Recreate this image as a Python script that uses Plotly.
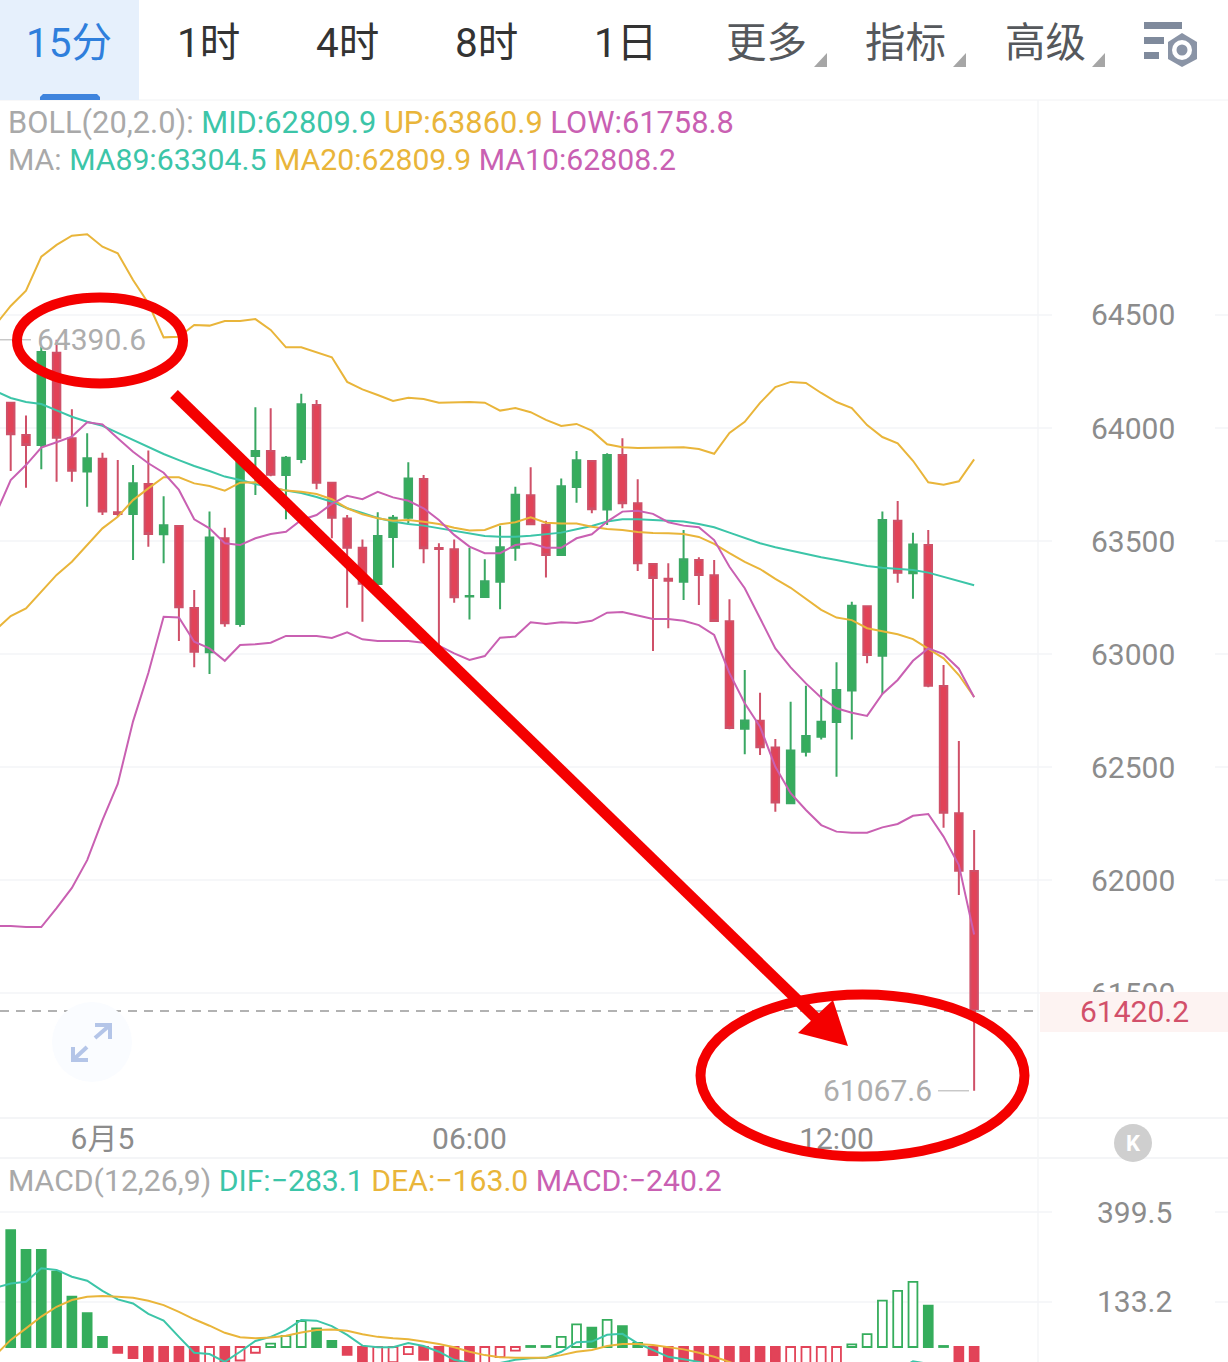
import plotly.graph_objects as go

WIDTH, HEIGHT = 1228, 1362

# 15-minute candles, oldest first
opens = [64112,63969,63925,64333,63955,63807,63864,63627,63620,63752,63530,63566,63204,63008,63512,63133,
         63876,63898,63792,63863,64102,63758,63600,63470,63310,63518,63603,63774,63469,63463,63254,63252,
         63320,63470,63702,63572,63438,63739,63854,63639,63880,63667,63398,63333,63320,63416,63348,63145,
         62669,62705,62586,62340,62568,62634,62699,62838,63211,62992,63590,63357,63482,62858,62295,62040]
highs = [64112,64055,64360,64390.6,64083,63977,63891,63858,63836,63900,63698,63566,63283,63630,63559,63893,
         64092,64087,63876,64151,64124,63762,63615,63507,63627,63615,63848,63792,63490,63507,63470,63419,
         63568,63740,63826,63590,63776,63898,63854,63888,63955,63773,63398,63401,63549,63428,63416,63242,
         62929,62829,62624,62789,62860,62844,62963,63231,63212,63631,63677,63537,63549,62951,62615,62221]
lows = [63810,63736,63817,63762,63762,63652,63615,63608,63416,63475,63401,63057,62941,62912,63121,63121,
        63704,63787,63596,63844,63729,63512,63205,63143,63310,63382,63578,63401,63040,63227,63153,63252,
        63198,63413,63571,63338,63438,63669,63623,63571,63645,63367,63013,63114,63239,63217,63144,62667,
        62556,62553,62302,62340,62546,62622,62457,62622,62959,62823,63315,63245,62853,62231,61934,61067.6]
closes = [63972,63925,64336,63957,63811,63866,63630,63620,63755,63531,63570,63207,63010,63515,63136,63867,
          63898,63793,63868,64105,63758,63603,63470,63311,63522,63603,63776,63468,63465,63251,63257,63322,
          63472,63705,63574,63438,63742,63857,63641,63881,63667,63401,63336,63324,63419,63350,63146,62673,
          62706,62587,62343,62573,62637,62700,62841,63214,62996,63593,63360,63485,62860,62298,62041,61420.2]

# Indicator lines start one period before the first visible candle
boll_up = [64456,64540,64608,64758,64810,64851,64857,64802,64773,64655,64552,64401,64404,64456,64453,64473,
           64473,64482,64434,64357,64357,64335,64313,64204,64171,64146,64120,64134,64128,64112,64114,64115,
           64112,64077,64088,64070,64036,64009,64018,63988,63928,63915,63911,63913,63912,63915,63907,63886,
           63978,64027,64111,64181,64204,64199,64155,64115,64088,64013,63960,63932,63855,63760,63749,63764,63860.9]
ma89 = [64164,64133,64115,64106,64078,64050,64028,64010,63978,63947,63917,63885,63858,63832,63810,63785,
        63770,63752,63739,63723,63712,63695,63674,63645,63624,63602,63586,63575,63568,63556,63544,63534,
        63522,63519,63519,63523,63530,63537,63552,63566,63586,63596,63596,63593,63592,63586,63575,63561,
        63537,63512,63490,63472,63457,63442,63428,63416,63404,63389,63382,63376,63372,63360,63342,63324,63304.5]
boll_mid = [63106,63168,63202,63276,63350,63408,63482,63556,63607,63681,63733,63782,63782,63755,63743,63723,
            63758,63760,63740,63723,63718,63708,63685,63645,63618,63601,63590,63593,63585,63575,63559,63546,
            63549,63574,63583,63605,63581,63577,63577,63563,63553,63549,63540,63535,63534,63531,63518,63487,
            63446,63408,63376,63332,63293,63246,63195,63161,63150,63114,63099,63087,63066,63025,62981,62907,62809.9]
ma10 = [63615,63770,63836,63913,63937,63962,64025,64016,63955,63895,63844,63802,63726,63596,63556,63490,
        63482,63512,63531,63541,63593,63615,63664,63700,63685,63718,63693,63678,63645,63593,63527,63475,
        63446,63446,63482,63490,63470,63470,63512,63530,63586,63630,63634,63620,63583,63568,63561,63504,
        63386,63291,63158,63025,62941,62870,62807,62760,62740,62726,62823,62885,62970,63025,63000,62935,62808.2]
boll_low = [61796,61796,61792,61792,61876,61965,62088,62265,62425,62702,62916,63165,63162,63054,63025,62970,
            63040,63043,63050,63080,63080,63080,63071,63096,63065,63058,63058,63058,63050,63037,63003,62974,
            62991,63072,63077,63140,63133,63140,63137,63147,63183,63186,63170,63155,63155,63147,63128,63084,
            62915,62782,62678,62501,62384,62310,62243,62214,62209,62209,62233,62248,62284,62292,62192,62066,61758.8]

macd_hist = [346,287,287,223,149,100,30,-17,-33,-50,-55,-58,-62,-50,-55,-40,
             -17,10,33,77,55,18,-23,-50,-48,-45,-21,-38,-50,-58,-60,-50,
             -30,-11,3,3,30,67,57,80,62,12,-24,-45,-55,-60,-65,-80,
             -95,-105,-110,-100,-90,-75,-50,8,38,137,166,193,122,3,-120,-240.2]
dif = [175,188,193,233,228,208,196,166,141,129,98,78,30,-17,-21,-44,
       -14,18,30,50,80,78,62,36,4,-1,-1,12,3,-14,-38,-47,
       -53,-47,-38,-33,-32,-14,14,16,36,39,11,-9,-29,-36,-44,-60,
       -90,-120,-150,-180,-190,-195,-190,-180,-150,-130,-100,-70,-42,-50,-90,-180,-283.1]
dea = [-24,21,55,90,119,139,149,151,149,146,137,124,104,82,63,42,
       29,26,28,33,43,50,52,48,38,30,26,23,16,9,-1,-14,
       -24,-30,-32,-33,-32,-24,-14,-9,3,9,9,6,-1,-7,-17,-29,
       -44,-65,-85,-105,-125,-140,-150,-155,-155,-150,-140,-125,-110,-100,-100,-125,-163.0]

price_ticks = [64500, 64000, 63500, 63000, 62500, 62000, 61500]
macd_ticks = [399.5, 133.2]
time_tick_index = [6, 30, 54]
time_tick_labels = ["6月5", "06:00", "12:00"]
tab_labels = ["15分", "1时", "4时", "8时", "1日", "更多", "指标", "高级"]
tab_centres = [69, 208, 347, 486, 625, 766, 905, 1045]

last_price = 61420.2
peak_price = 64390.6
trough_price = 61067.6

candle_index = list(range(len(opens)))
line_index = list(range(-1, len(opens)))

RED, GREEN = "#e24358", "#35ad5c"
WICK_RED, WICK_GREEN = "#cf5068", "#3aa863"
TEAL, YELLOW, MAGENTA = "#3cc5a8", "#e9b53a", "#c960b2"
GRID = "#f3f5f7"
FONT = "Roboto, 'Noto Sans CJK SC', sans-serif"
MARKUP = "#f40000"


def fx(px):
    return px / WIDTH


def fy(py):
    return 1 - py / HEIGHT


def chrome_rect(x0, y0, x1, y1, color):
    return dict(type="rect", xref="paper", yref="paper", x0=fx(x0), x1=fx(x1), y0=fy(y0), y1=fy(y1),
                fillcolor=color, line_width=0, layer="above")


def chrome_path(points, fill=None, line=None, width=0, close=True, layer="above"):
    d = "M " + " L ".join(f"{fx(x):.5f},{fy(y):.5f}" for x, y in points) + (" Z" if close else "")
    return dict(type="path", xref="paper", yref="paper", path=d, fillcolor=fill,
                line=dict(color=line or "rgba(0,0,0,0)", width=width), layer=layer)


def chrome_circle(cx, cy, rx, ry, fill=None, line=None, width=0, layer="above"):
    return dict(type="circle", xref="paper", yref="paper", x0=fx(cx - rx), x1=fx(cx + rx),
                y0=fy(cy + ry), y1=fy(cy - ry), fillcolor=fill,
                line=dict(color=line or "rgba(0,0,0,0)", width=width), layer=layer)


def chrome_text(x, y, text, size=30, color="#888", anchor="left", weight=400):
    return dict(xref="paper", yref="paper", x=fx(x), y=fy(y), text=text, showarrow=False,
                xanchor=anchor, yanchor="middle", align=anchor,
                font=dict(family=FONT, size=size, color=color, weight=weight))


fig = go.Figure()

fig.add_trace(go.Candlestick(
    x=candle_index, open=opens, high=highs, low=lows, close=closes, xaxis="x", yaxis="y",
    increasing=dict(line=dict(color=WICK_GREEN, width=2), fillcolor=GREEN),
    decreasing=dict(line=dict(color=WICK_RED, width=2), fillcolor=RED),
    whiskerwidth=0, hoverinfo="skip", showlegend=False))

for values, color in [(ma89, TEAL), (boll_mid, YELLOW), (boll_up, YELLOW), (ma10, MAGENTA), (boll_low, MAGENTA)]:
    fig.add_trace(go.Scatter(x=line_index, y=values, mode="lines", xaxis="x", yaxis="y",
                             line=dict(color=color, width=2), hoverinfo="skip", showlegend=False))

# Histogram bars are hollow while the value is rising, solid while it is falling
hist_edge = [GREEN if v >= 0 else RED for v in macd_hist]
hist_fill = [
    "#ffffff" if i > 0 and v > macd_hist[i - 1] else hist_edge[i]
    for i, v in enumerate(macd_hist)
]
fig.add_trace(go.Bar(x=candle_index, y=macd_hist, xaxis="x2", yaxis="y2", width=0.58,
                     marker=dict(color=hist_fill, line=dict(color=hist_edge, width=1.8)),
                     hoverinfo="skip", showlegend=False))
for values, color in [(dif, TEAL), (dea, YELLOW)]:
    fig.add_trace(go.Scatter(x=line_index, y=values, mode="lines", xaxis="x2", yaxis="y2",
                             line=dict(color=color, width=2), hoverinfo="skip", showlegend=False))

shapes = []

# Panel frame and tick grid
shapes.append(dict(type="line", xref="paper", yref="paper", x0=0, x1=1, y0=fy(100), y1=fy(100),
                   line=dict(color="#f1f2f4", width=1), layer="below"))
shapes.append(dict(type="line", xref="paper", yref="paper", x0=0, x1=1, y0=fy(1118), y1=fy(1118),
                   line=dict(color="#f1f2f4", width=1.5), layer="below"))
shapes.append(dict(type="line", xref="paper", yref="paper", x0=0, x1=1, y0=fy(1158), y1=fy(1158),
                   line=dict(color="#f1f2f4", width=1.5), layer="below"))
shapes.append(dict(type="line", xref="paper", yref="paper", x0=fx(1038), x1=fx(1038), y0=0, y1=fy(100),
                   line=dict(color="#f5f6f7", width=1.5), layer="below"))
for axis, ticks in (("y", price_ticks), ("y2", macd_ticks)):
    for tick in ticks:
        for x0, x1 in ((0, 1052), (1215, 1228)):
            shapes.append(dict(type="line", xref="paper", yref=axis, x0=fx(x0), x1=fx(x1), y0=tick, y1=tick,
                               line=dict(color=GRID, width=1.5), layer="below"))

# Last-price marker
shapes.append(dict(type="line", xref="paper", yref="y", x0=0, x1=fx(1036), y0=last_price, y1=last_price,
                   line=dict(color="#b2b2b2", width=2, dash="9px,7px"), layer="above"))
shapes.append(chrome_rect(1040, 992, 1228, 1032, "#fdf3f2"))

# Leader lines of the extreme-price labels
shapes.append(dict(type="line", xref="paper", yref="y", x0=0, x1=fx(31), y0=peak_price, y1=peak_price,
                   line=dict(color="#c8c8c8", width=1.5), layer="above"))
shapes.append(dict(type="line", xref="paper", yref="y", x0=fx(938), x1=fx(969), y0=trough_price, y1=trough_price,
                   line=dict(color="#c8c8c8", width=1.5), layer="above"))

# Interval tabs
shapes.append(chrome_rect(0, 0, 139, 100, "#e6f0fc"))
shapes.append(chrome_path([(40, 100), (40, 97), (43, 94), (97, 94), (100, 97), (100, 100)], fill="#3f84dd"))
for tx in (814, 953, 1092):
    shapes.append(chrome_path([(tx + 13, 53), (tx + 13, 67), (tx, 67)], fill="#a6a6a6"))

# Settings icon
shapes.append(chrome_rect(1144, 22, 1182, 29, "#7f8a9c"))
shapes.append(chrome_rect(1144, 37, 1164, 44, "#7f8a9c"))
shapes.append(chrome_rect(1144, 52, 1159, 59, "#7f8a9c"))
shapes.append(chrome_path([(1182, 33), (1197, 42), (1197, 59), (1182, 67), (1168, 59), (1168, 42)], fill="#8a94a6"))
shapes.append(chrome_circle(1182, 50, 10, 10, fill="#ffffff"))
shapes.append(chrome_circle(1182, 50, 5.5, 5.5, fill="#8a94a6"))

# Expand button
shapes.append(chrome_circle(92, 1042, 40, 40, fill="#fafcff"))
for pts in ([(95, 1038), (110, 1025)], [(95, 1025), (110, 1025), (110, 1039)],
            [(87, 1047), (73, 1060)], [(73, 1047), (73, 1060), (88, 1060)]):
    shapes.append(chrome_path(pts, line="#b4c5e8", width=4, close=False))

# Collapse button
shapes.append(chrome_circle(1133, 1143, 19, 19, fill="#cfcfcf"))

# Hand-drawn markup over the chart
shapes.append(chrome_circle(100, 340.5, 83, 43, line=MARKUP, width=10))
shapes.append(chrome_circle(862.5, 1075.5, 162, 81, line=MARKUP, width=10))
shapes.append(chrome_path([(174, 394), (818, 1020)], line=MARKUP, width=11, close=False))
shapes.append(chrome_path([(848, 1046), (798, 1033), (833, 1000)], fill=MARKUP))

annotations = []
for label, cx in zip(tab_labels, tab_centres):
    color = "#2f7fdc" if label == "15分" else ("#333333" if cx < 700 else "#55585c")
    annotations.append(chrome_text(cx, 43, label, size=40.5, color=color, anchor="center"))


def seg(text, color):
    return f'<span style="color:{color}">{text}</span>'


GREY_TXT = "#a9a9a9"
annotations.append(chrome_text(6, 122, seg("BOLL(20,2.0): ", GREY_TXT) + seg("MID:62809.9 ", TEAL)
                               + seg("UP:63860.9 ", YELLOW) + seg("LOW:61758.8", MAGENTA), size=30.8))
annotations.append(chrome_text(6, 159, seg("MA: ", GREY_TXT) + seg("MA89:63304.5 ", TEAL)
                               + seg("MA20:62809.9 ", YELLOW) + seg("MA10:62808.2", MAGENTA), size=30.2))
annotations.append(chrome_text(6, 1180, seg("MACD(12,26,9) ", GREY_TXT) + seg("DIF:−283.1 ", TEAL)
                               + seg("DEA:−163.0 ", YELLOW) + seg("MACD:−240.2", MAGENTA), size=30.2))

annotations.append(dict(xref="paper", yref="y", x=fx(35), y=peak_price, text=f"{peak_price}", showarrow=False,
                        xanchor="left", yanchor="middle",
                        font=dict(family=FONT, size=30, color="#adadad")))
annotations.append(dict(xref="paper", yref="y", x=fx(934), y=trough_price, text=f"{trough_price}", showarrow=False,
                        xanchor="right", yanchor="middle",
                        font=dict(family=FONT, size=30, color="#adadad")))
annotations.append(dict(xref="paper", yref="y", x=fx(1134), y=last_price, text=f"{last_price}", showarrow=False,
                        xanchor="center", yanchor="middle",
                        font=dict(family=FONT, size=30, color="#d2506a")))
annotations.append(chrome_text(1133, 1143, "K", size=22, color="#ffffff", anchor="center", weight=700))

axis_font = dict(family=FONT, size=30, color="#8c8c8c")

# Pixel placement of the panels: price scale 0.226 px per unit, MACD scale 0.338 px per unit
fig.update_layout(
    width=WIDTH, height=HEIGHT, autosize=False,
    margin=dict(l=0, r=0, t=0, b=0, pad=0),
    paper_bgcolor="#ffffff", plot_bgcolor="rgba(0,0,0,0)",
    showlegend=False, boxgap=0.3, bargap=0.35,
    shapes=shapes, annotations=annotations,
    xaxis=dict(domain=[0, 1], range=[-0.7, 79.6], anchor="y", rangeslider=dict(visible=False),
               tickmode="array", tickvals=time_tick_index, ticktext=time_tick_labels,
               tickfont=axis_font, ticks="", ticklabelstandoff=0,
               showgrid=False, zeroline=False, showline=False),
    xaxis2=dict(domain=[0, 1], range=[-0.7, 79.6], anchor="y2", visible=False),
    yaxis=dict(domain=[fy(1118), fy(100)], range=[60946.9, 65451.3], anchor="free", position=fx(1090),
               side="right", tickmode="array", tickvals=price_ticks, ticktext=[str(t) for t in price_ticks],
               tickfont=axis_font, ticks="", showgrid=False, zeroline=False, showline=False),
    yaxis2=dict(domain=[0, fy(1158)], range=[-44.4, 559.3], anchor="free", position=fx(1096),
                side="right", tickmode="array", tickvals=macd_ticks, ticktext=[str(t) for t in macd_ticks],
                tickfont=axis_font, ticks="", showgrid=False, zeroline=False, showline=False),
)

fig.write_html("out.html", config={"displayModeBar": False, "staticPlot": True})
